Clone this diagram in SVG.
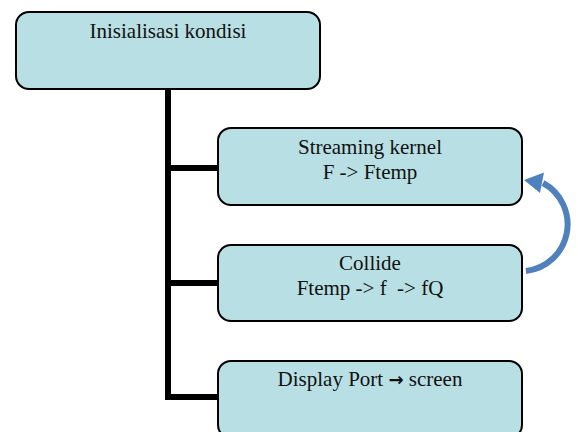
<svg xmlns="http://www.w3.org/2000/svg" width="578" height="432" viewBox="0 0 578 432">
<style>
.box{fill:#B8DFE3;stroke:#000;stroke-width:2}
.t{font-family:"Liberation Serif","Times New Roman",serif;font-size:21px;fill:#111;text-anchor:middle;white-space:pre}
.arr{font-family:"DejaVu Sans",sans-serif;font-weight:bold;font-size:18px}
.tree{fill:none;stroke:#000;stroke-width:6}
.loop{fill:none;stroke:#4F81BD;stroke-width:6}
</style>
<rect width="578" height="432" fill="#fff"/>
<g id="connectors">
<path class="tree" d="M168,89 V397 M165,168 H218 M165,283 H218 M165,397 H218"/>
<path class="loop" d="M526,271 A47,47 0 0 0 543,183"/>
<polygon points="524,180 544,172.5 540,193" fill="#4F81BD"/>
</g>
<g id="node-init">
<rect class="box" x="16" y="12" width="304" height="77" rx="13"/>
<text class="t" x="168" y="38">Inisialisasi kondisi</text>
</g>
<g id="node-streaming">
<rect class="box" x="218" y="128" width="304" height="77" rx="13"/>
<text class="t" x="370" y="154">Streaming kernel</text>
<text class="t" x="370" y="179">F -&gt; Ftemp</text>
</g>
<g id="node-collide">
<rect class="box" x="218" y="245" width="304" height="76" rx="13"/>
<text class="t" x="370" y="270">Collide</text>
<text class="t" x="370" y="295">Ftemp -&gt; f  -&gt; fQ</text>
</g>
<g id="node-display">
<rect class="box" x="218" y="361" width="304" height="77" rx="13"/>
<text class="t" x="370" y="386">Display Port <tspan class="arr">→</tspan> screen</text>
</g>
</svg>
